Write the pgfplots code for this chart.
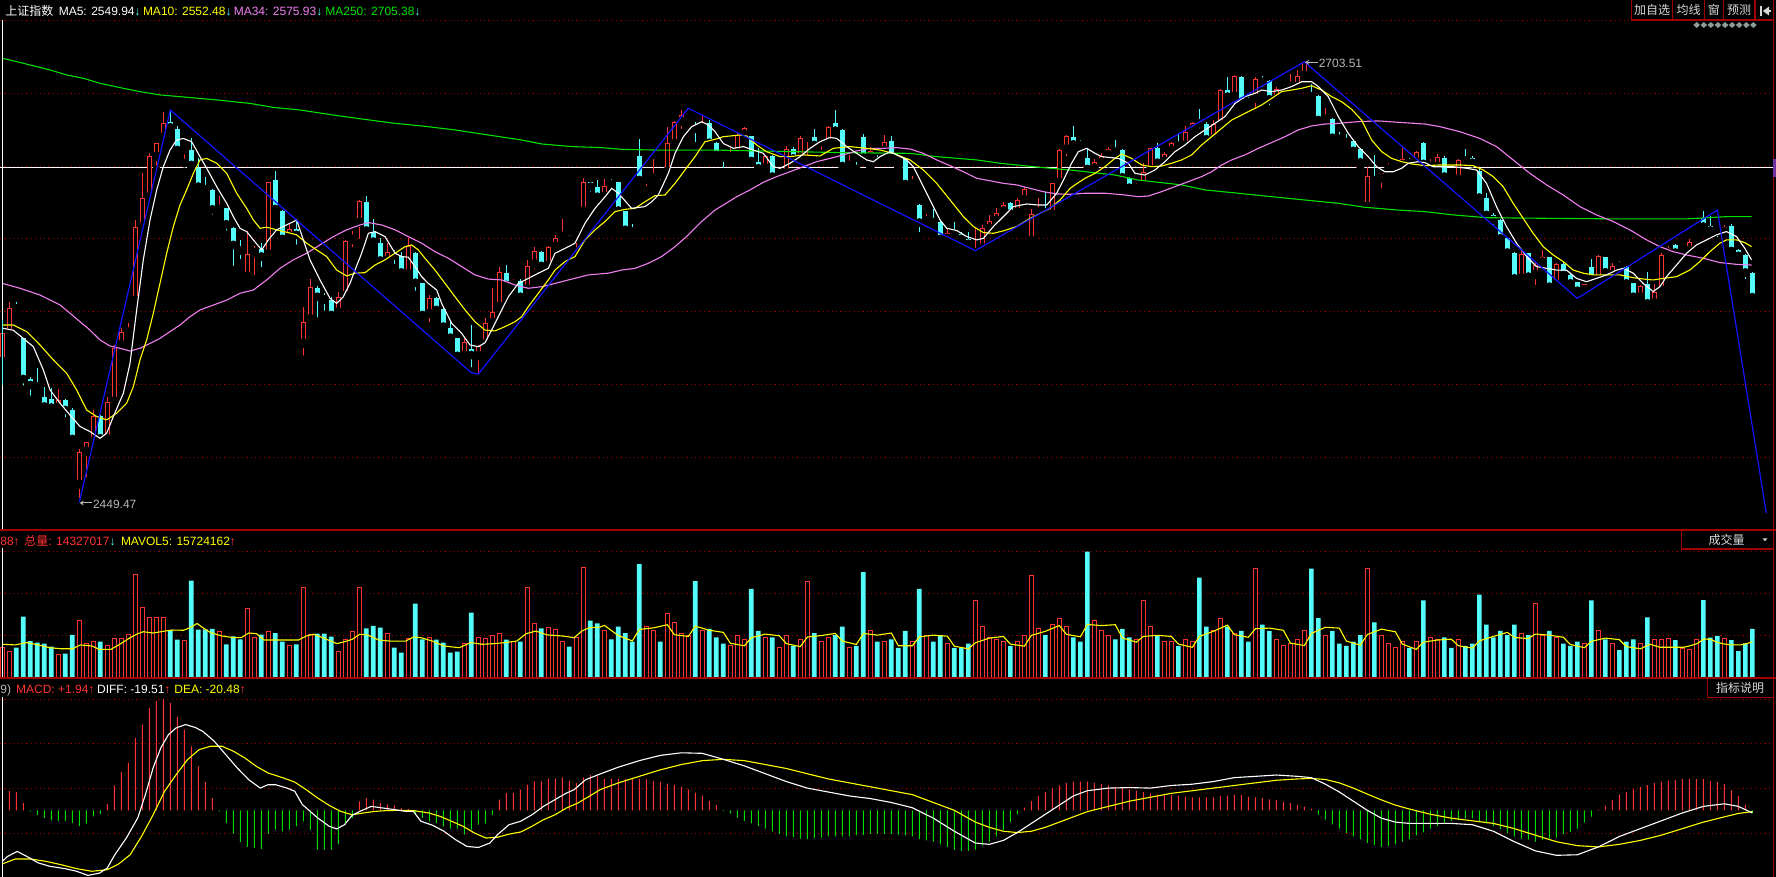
\documentclass[border=0pt]{standalone}
\usepackage{pgfplots}
\pgfplotsset{compat=1.18}
\usepackage{pgfplotstable}
\usepackage{fontspec}
\setmainfont{Liberation Sans}
\newfontfamily\cjk{Noto Sans CJK SC}
\usetikzlibrary{arrows.meta}
\definecolor{upred}{HTML}{FF3232}
\definecolor{dncyan}{HTML}{54FCFC}
\definecolor{gridred}{HTML}{8C0000}
\definecolor{framered}{HTML}{A00000}
\definecolor{maten}{HTML}{FFFF00}
\definecolor{mathree}{HTML}{F080F0}
\definecolor{matwo}{HTML}{00E000}
\definecolor{mgreen}{HTML}{00DD00}
\definecolor{zz}{HTML}{1414FF}
\definecolor{lbl}{HTML}{B8B8B8}
\definecolor{btn}{HTML}{D8D8D8}
\definecolor{dia}{HTML}{8C9C9C}
\definecolor{tab}{HTML}{7030A0}
\newcommand\f{\fontsize{6pt}{7pt}\selectfont}

\pgfplotstableread{
k O H L C
0 2530.6 2554.6 2517.1 2546.9
1 2546.9 2565.2 2543.1 2561.3
8 2504.1 2514.7 2498.9 2508.5
11 2459.8 2480.3 2449.47 2478.4
12 2478.8 2484.5 2461.4 2484.1
13 2484.5 2502.7 2484.0 2499.3
15 2485.9 2510.0 2485.5 2507.2
16 2507.6 2540.2 2507.2 2538.3
17 2540.2 2549.8 2538.3 2547.5
18 2547.3 2552.7 2545.0 2549.8
19 2565.7 2612.3 2565.3 2608.1
20 2608.1 2639.2 2607.7 2624.8
21 2625.4 2650.7 2624.8 2649.2
22 2648.8 2656.8 2641.1 2656.4
23 2659.9 2674.8 2659.5 2668.0
26 2652.6 2655.0 2645.0 2654.6
31 2618.0 2626.1 2616.5 2618.6
35 2579.6 2606.0 2579.2 2592.5
36 2593.1 2597.3 2578.0 2595.4
38 2592.5 2634.4 2592.1 2634.0
41 2602.7 2610.0 2601.7 2606.9
43 2541.1 2562.3 2531.6 2553.6
44 2555.0 2578.0 2552.7 2573.8
48 2559.0 2570.9 2555.2 2568.0
49 2568.6 2600.8 2568.2 2600.2
50 2600.8 2606.2 2594.0 2603.7
51 2610.8 2623.8 2598.9 2623.2
55 2588.7 2598.9 2585.3 2593.7
58 2581.0 2601.7 2580.6 2597.5
61 2558.1 2569.0 2550.8 2567.1
66 2533.9 2545.0 2528.7 2541.7
68 2533.9 2540.2 2521.6 2539.6
69 2540.6 2555.6 2540.2 2552.7
70 2553.1 2572.8 2552.7 2559.4
71 2562.3 2585.4 2561.9 2582.1
73 2574.8 2578.0 2570.0 2577.3
75 2572.3 2589.3 2567.1 2586.0
76 2586.8 2596.9 2581.2 2594.4
78 2586.0 2597.3 2583.0 2596.5
79 2596.9 2603.7 2593.1 2601.7
80 2602.5 2612.7 2601.7 2602.9
82 2601.7 2602.7 2594.0 2602.3
83 2617.1 2636.3 2612.7 2634.0
86 2625.7 2635.7 2624.8 2631.9
92 2635.5 2638.8 2629.2 2635.9
93 2636.1 2647.3 2635.7 2638.8
95 2640.1 2665.7 2639.7 2656.4
96 2656.1 2669.5 2655.5 2668.6
97 2668.9 2675.7 2662.2 2672.8
98 2673.2 2676.7 2668.4 2676.1
100 2665.1 2672.8 2661.3 2667.4
104 2648.4 2654.0 2646.5 2650.7
105 2650.7 2662.2 2648.8 2661.3
106 2661.3 2665.7 2656.8 2665.1
109 2642.1 2649.8 2641.5 2649.2
111 2637.3 2640.1 2635.7 2638.8
112 2639.2 2655.0 2638.2 2653.0
114 2647.8 2660.7 2645.9 2659.3
115 2659.7 2663.2 2646.9 2660.1
117 2657.2 2659.9 2650.3 2657.6
118 2656.4 2666.5 2656.1 2666.1
121 2643.4 2649.8 2643.0 2643.8
124 2648.4 2654.6 2643.0 2652.1
126 2652.1 2661.3 2651.6 2657.0
130 2632.8 2637.6 2632.5 2634.9
132 2611.4 2615.5 2608.5 2613.2
135 2601.4 2607.5 2600.8 2604.6
139 2593.1 2607.5 2590.6 2595.4
140 2596.0 2609.4 2595.4 2607.5
141 2607.1 2615.2 2604.6 2611.8
142 2611.8 2619.4 2611.4 2616.5
143 2617.1 2622.8 2612.9 2620.9
145 2616.5 2624.8 2616.1 2623.8
146 2623.8 2631.5 2622.3 2630.0
147 2600.4 2618.6 2597.3 2615.5
148 2616.5 2625.2 2615.5 2618.6
150 2615.5 2633.8 2612.7 2633.4
151 2633.8 2653.0 2633.4 2652.6
152 2653.0 2661.3 2646.5 2660.7
156 2641.7 2647.3 2639.2 2645.5
157 2645.3 2651.1 2639.6 2649.4
158 2649.8 2654.2 2645.0 2653.2
162 2630.2 2633.4 2628.6 2632.1
163 2632.5 2645.0 2632.1 2640.1
164 2641.1 2654.0 2640.1 2653.6
166 2645.9 2651.6 2643.0 2650.3
167 2652.1 2657.4 2650.7 2656.8
169 2655.3 2666.5 2655.0 2663.0
170 2664.2 2668.9 2661.7 2668.0
173 2658.8 2669.9 2658.4 2667.4
174 2667.1 2687.6 2666.5 2687.2
176 2683.4 2695.9 2683.0 2695.3
179 2682.4 2694.5 2674.2 2693.4
182 2681.9 2689.2 2681.1 2687.8
183 2686.9 2690.1 2685.3 2688.2
184 2689.0 2696.5 2688.2 2689.4
185 2689.2 2698.8 2688.8 2695.3
186 2695.5 2703.51 2695.3 2703.2
189 2670.1 2677.1 2669.5 2670.7
195 2619.9 2643.0 2618.0 2637.6
197 2636.3 2639.6 2628.0 2639.2
198 2641.3 2645.0 2637.6 2642.1
199 2643.0 2645.0 2639.8 2644.0
200 2644.0 2654.0 2642.1 2647.3
202 2645.5 2652.1 2643.0 2651.3
204 2643.0 2647.3 2640.1 2645.3
205 2643.0 2650.3 2639.6 2648.4
208 2635.7 2647.3 2635.3 2646.9
217 2578.6 2595.0 2578.2 2592.5
219 2580.6 2588.9 2572.3 2586.3
220 2587.7 2595.0 2581.6 2590.8
222 2575.2 2587.7 2574.8 2586.8
226 2571.9 2575.4 2568.0 2575.2
228 2578.0 2592.1 2577.3 2591.6
230 2580.6 2587.3 2580.2 2586.0
234 2567.7 2574.8 2567.1 2574.4
236 2564.2 2575.4 2561.3 2570.9
237 2571.5 2593.1 2570.9 2592.1
238 2593.1 2597.3 2589.8 2596.3
240 2594.0 2596.0 2591.6 2594.6
241 2594.6 2601.1 2594.0 2599.8
242 2600.4 2601.4 2597.5 2601.0
246 2605.2 2609.4 2604.6 2608.5
}\up

\pgfplotstableread{
k O H L C
2 2561.9 2565.2 2557.5 2561.3
3 2544.0 2544.5 2514.3 2520.6
4 2520.6 2521.9 2508.5 2517.1
5 2516.9 2526.8 2515.2 2516.2
6 2510.4 2516.2 2504.1 2504.7
7 2509.1 2515.2 2503.7 2504.1
9 2508.5 2508.9 2496.0 2502.7
10 2502.7 2503.7 2485.1 2486.0
14 2499.3 2499.8 2484.5 2486.4
24 2668.9 2675.7 2661.3 2665.7
25 2664.5 2666.5 2652.2 2652.6
27 2652.6 2659.3 2643.0 2644.0
28 2642.1 2647.8 2630.5 2631.5
29 2632.1 2637.3 2629.2 2630.0
30 2629.6 2630.0 2612.9 2618.4
32 2619.0 2619.4 2603.7 2609.8
33 2607.5 2608.5 2583.4 2597.9
34 2596.9 2600.8 2587.3 2594.6
37 2595.4 2598.9 2582.5 2591.2
39 2635.2 2640.5 2617.1 2618.6
40 2617.5 2617.9 2600.2 2601.4
42 2606.9 2612.7 2595.6 2603.7
45 2573.2 2574.2 2553.6 2568.0
46 2568.4 2570.3 2557.5 2566.5
47 2565.9 2568.0 2556.9 2557.5
52 2622.8 2626.1 2601.7 2606.2
53 2605.6 2612.7 2599.2 2599.8
54 2599.2 2601.7 2587.7 2588.9
56 2592.7 2595.0 2584.3 2591.9
57 2591.4 2593.7 2581.6 2582.0
59 2593.1 2594.0 2569.0 2576.1
60 2575.7 2576.0 2557.2 2557.5
62 2567.5 2568.0 2560.0 2560.4
63 2560.7 2561.3 2549.8 2550.8
64 2549.8 2553.6 2543.6 2544.4
65 2544.0 2544.4 2533.5 2533.9
67 2537.7 2551.7 2524.8 2534.4
72 2581.6 2586.3 2572.3 2574.8
74 2577.3 2578.0 2565.2 2568.0
77 2594.0 2594.6 2585.4 2585.8
81 2603.1 2603.7 2597.7 2600.8
84 2634.0 2634.4 2626.1 2631.5
85 2631.1 2635.3 2621.9 2625.7
87 2633.8 2635.7 2629.6 2633.0
88 2634.0 2634.4 2616.1 2617.7
89 2617.5 2617.7 2604.2 2606.6
90 2606.4 2609.8 2603.7 2605.6
91 2649.2 2658.9 2633.4 2635.3
94 2639.0 2640.1 2633.0 2638.2
99 2665.7 2668.9 2654.6 2664.9
101 2668.0 2669.9 2654.0 2656.8
102 2656.8 2657.4 2647.3 2649.8
103 2649.8 2650.0 2639.6 2648.4
107 2660.7 2660.9 2645.3 2646.3
108 2645.9 2653.6 2641.7 2642.1
110 2649.2 2649.8 2636.9 2637.3
113 2653.0 2654.2 2645.9 2647.8
116 2659.9 2664.7 2655.0 2655.5
119 2668.0 2675.7 2663.4 2663.8
120 2664.2 2664.5 2640.1 2643.4
122 2643.6 2645.9 2639.6 2641.7
123 2659.9 2661.9 2648.2 2648.4
125 2652.6 2653.6 2645.9 2652.1
127 2657.8 2660.7 2647.8 2648.2
128 2648.4 2650.7 2643.0 2647.8
129 2647.8 2648.2 2632.5 2633.0
131 2620.9 2621.3 2602.7 2610.8
133 2612.7 2618.4 2610.8 2611.0
134 2611.4 2611.8 2600.8 2601.4
136 2606.6 2611.4 2604.2 2604.6
137 2604.0 2605.3 2597.9 2601.4
138 2601.4 2605.3 2598.3 2598.5
144 2621.9 2622.8 2615.2 2616.1
149 2618.0 2628.2 2616.1 2616.5
153 2660.3 2666.5 2654.6 2655.9
154 2656.1 2658.4 2651.6 2655.5
155 2648.2 2653.6 2640.1 2641.7
159 2653.2 2658.4 2650.7 2651.6
160 2652.6 2653.0 2633.8 2636.9
161 2636.3 2636.9 2628.2 2630.9
165 2654.0 2656.4 2644.0 2645.3
168 2657.4 2662.2 2654.0 2655.1
171 2669.9 2676.5 2662.6 2668.0
172 2667.6 2668.9 2658.4 2658.8
175 2687.2 2694.5 2681.9 2683.4
177 2694.9 2695.3 2679.5 2680.1
178 2680.9 2683.4 2678.0 2680.3
180 2692.6 2695.3 2686.3 2692.0
181 2692.4 2693.0 2676.1 2681.9
187 2684.2 2690.5 2679.5 2683.6
188 2683.8 2684.2 2669.5 2669.9
190 2670.5 2670.9 2659.1 2659.7
191 2659.7 2663.2 2658.0 2659.1
192 2657.8 2661.9 2655.0 2657.2
193 2658.0 2658.4 2650.3 2652.1
194 2653.2 2653.6 2643.4 2645.5
196 2636.1 2649.8 2634.9 2635.3
201 2645.7 2648.2 2642.1 2645.0
203 2656.4 2657.4 2644.0 2644.6
206 2648.2 2649.2 2636.3 2637.3
207 2638.6 2640.1 2634.4 2637.8
209 2647.3 2653.2 2646.1 2646.5
210 2647.8 2649.2 2645.0 2645.3
211 2640.7 2641.5 2624.8 2625.2
212 2624.8 2627.7 2614.2 2615.2
213 2615.2 2616.5 2606.9 2612.3
214 2612.3 2612.7 2600.4 2601.7
215 2601.7 2602.3 2592.1 2593.5
216 2593.5 2593.7 2577.1 2578.6
218 2593.1 2593.5 2579.2 2579.6
221 2590.8 2591.2 2573.2 2573.8
223 2586.8 2588.3 2580.0 2580.6
224 2580.6 2581.6 2574.8 2575.7
225 2576.3 2576.7 2568.0 2571.5
227 2585.4 2589.7 2578.0 2578.6
229 2590.8 2591.2 2581.6 2582.1
231 2586.5 2588.9 2584.4 2585.8
232 2585.4 2585.8 2574.8 2575.7
233 2575.7 2576.1 2565.7 2568.0
235 2575.2 2582.0 2563.8 2564.2
239 2597.9 2598.5 2591.2 2593.5
243 2613.2 2617.7 2605.6 2608.5
244 2608.8 2614.4 2605.6 2606.2
245 2606.6 2606.9 2599.8 2605.7
247 2608.8 2610.0 2593.7 2594.4
248 2595.0 2595.4 2589.3 2591.6
249 2592.1 2592.5 2575.7 2582.0
250 2581.6 2582.0 2567.5 2567.7
}\dn

\pgfplotstableread{
k p
0 2549.9
1.57 2548.7
3.0 2544.0
4.43 2539.2
5.86 2525.8
6.81 2514.3
8.24 2506.6
9.67 2499.8
11.1 2493.2
12.5 2490.3
13.95 2486.4
14.9 2489.3
15.86 2498.9
17.29 2512.4
18.24 2529.6
19.19 2560.4
20.14 2589.3
21.1 2612.3
22.05 2629.6
23.0 2643.0
23.95 2652.6
24.9 2658.4
25.86 2659.3
27.05 2657.4
28.24 2648.8
29.19 2642.1
30.62 2631.5
32.05 2621.9
33.0 2614.2
33.95 2607.5
34.9 2605.6
35.86 2600.8
37.05 2595.0
38.0 2600.8
39.19 2606.6
40.14 2608.5
41.1 2610.4
42.05 2612.3
43.0 2600.8
43.95 2589.3
45.38 2577.7
46.81 2567.1
47.76 2564.2
48.71 2568.0
49.67 2575.7
50.38 2583.4
51.33 2593.1
52.29 2604.6
53.24 2605.6
54.67 2602.7
56.1 2593.1
57.05 2591.2
58.0 2590.8
58.95 2585.4
59.9 2579.6
60.86 2575.7
62.05 2571.9
62.76 2564.2
64.19 2552.7
65.62 2546.9
66.81 2540.2
68.0 2539.2
68.95 2541.5
69.9 2548.8
70.86 2556.5
72.29 2568.0
73.71 2575.7
75.14 2578.6
76.57 2581.6
78.0 2584.4
78.95 2593.1
80.38 2595.9
81.81 2598.9
83.24 2610.4
84.67 2619.0
86.1 2625.7
87.05 2630.5
88.0 2627.7
89.9 2619.0
91.81 2620.0
92.76 2622.8
93.71 2626.7
95.14 2639.2
96.1 2650.7
97.29 2660.3
98.48 2666.1
99.9 2668.9
100.86 2667.1
101.81 2663.2
103.0 2656.4
104.43 2653.6
105.86 2654.6
107.29 2652.6
108.72 2650.7
110.15 2643.0
111.1 2642.1
112.53 2645.0
113.96 2648.8
115.39 2653.6
116.81 2657.4
118.24 2659.9
119.2 2659.3
120.62 2654.6
122.05 2650.7
123.48 2646.9
124.43 2645.9
125.39 2648.8
126.81 2651.6
127.77 2649.8
129.2 2646.9
130.15 2643.0
131.1 2635.3
132.53 2623.8
133.96 2612.3
134.91 2607.5
136.34 2606.2
137.77 2602.7
139.2 2600.8
140.15 2601.7
141.58 2608.5
143.0 2614.2
144.43 2620.0
146.34 2621.5
148.0 2620.9
149.2 2620.9
150.62 2627.7
151.58 2635.3
152.75 2645.0
153.7 2651.6
154.9 2653.6
156.1 2650.7
157.04 2648.8
158.0 2648.4
159.42 2647.8
160.85 2645.0
161.8 2639.2
163.23 2638.2
164.66 2641.1
166.09 2645.9
167.51 2651.6
168.94 2655.5
170.37 2660.3
171.8 2664.2
173.23 2668.0
174.66 2671.9
176.09 2679.5
177.51 2683.4
178.94 2685.3
179.9 2687.2
181.32 2686.3
182.75 2687.2
184.18 2689.2
185.61 2692.0
187.04 2692.0
188.0 2689.2
189.42 2683.4
190.85 2671.9
192.28 2662.2
193.7 2654.6
195.13 2648.8
196.32 2643.0
197.51 2640.1
198.7 2640.1
199.9 2642.1
200.85 2645.0
202.28 2645.9
203.23 2645.3
204.4 2643.0
207.26 2643.0
209.17 2642.1
210.6 2641.1
212.02 2633.4
213.45 2620.0
214.88 2608.5
216.31 2598.9
217.74 2591.2
219.17 2585.4
220.6 2584.4
222.02 2583.4
223.45 2583.4
224.88 2578.6
226.31 2576.7
227.74 2578.6
229.17 2580.6
230.6 2583.4
231.55 2584.4
232.98 2581.6
234.4 2575.7
235.83 2571.0
236.79 2573.8
237.74 2579.6
239.17 2586.3
240.6 2593.1
242.02 2597.9
243.45 2600.8
244.88 2603.7
246.31 2605.6
247.74 2602.7
248.93 2595.9
249.88 2589.3
}\maA

\pgfplotstableread{
k p
0 2551.7
1.57 2551.7
3.48 2547.9
5.38 2540.2
7.29 2531.6
9.19 2523.9
10.62 2514.3
12.05 2502.7
13.48 2498.9
14.9 2497.0
16.33 2500.8
17.76 2506.6
18.72 2516.2
19.67 2531.6
20.62 2543.1
21.57 2558.5
22.52 2575.7
23.48 2593.1
24.43 2608.5
25.38 2620.9
26.33 2629.6
27.29 2639.2
28.24 2646.9
29.19 2647.8
30.62 2645.0
32.05 2639.2
33.48 2627.7
34.9 2619.0
35.86 2612.3
36.81 2607.5
37.76 2608.1
39.19 2606.6
40.62 2605.2
42.05 2603.7
43.48 2598.9
44.9 2595.0
46.33 2591.2
47.76 2583.4
49.19 2580.0
50.38 2581.6
51.81 2581.9
53.24 2586.3
54.67 2589.3
56.1 2593.1
57.52 2596.9
58.48 2597.9
59.43 2595.0
60.38 2590.2
61.81 2583.4
63.24 2575.7
64.67 2568.0
66.1 2560.4
67.52 2553.6
68.95 2548.8
70.38 2548.3
71.81 2550.8
73.24 2553.6
74.19 2556.5
75.14 2562.3
76.57 2570.0
78.0 2577.7
78.95 2583.4
80.38 2588.3
81.81 2591.2
83.24 2600.8
84.67 2606.6
86.1 2611.4
87.52 2617.1
88.95 2618.4
90.38 2619.0
91.81 2622.8
93.24 2626.3
94.67 2626.7
96.1 2633.4
97.52 2641.1
98.95 2648.8
100.38 2657.4
101.81 2658.8
103.0 2660.3
105.39 2661.3
106.34 2660.7
107.77 2655.5
109.2 2651.6
111.1 2648.8
112.53 2648.8
114.43 2649.8
116.81 2649.2
118.72 2653.6
121.1 2654.6
123.48 2653.6
125.39 2652.6
127.29 2650.7
129.67 2646.9
131.58 2641.1
133.48 2633.4
135.39 2623.8
137.29 2614.2
138.72 2608.5
140.15 2605.0
141.58 2604.6
143.0 2606.0
144.91 2608.5
146.81 2613.2
148.24 2616.1
149.67 2619.0
151.1 2623.8
152.53 2630.5
153.23 2632.5
154.66 2636.3
156.09 2639.2
157.51 2643.0
158.94 2647.8
159.9 2650.3
161.32 2647.8
162.75 2644.0
164.18 2643.0
165.61 2643.4
167.04 2645.0
168.47 2646.9
169.9 2649.8
171.32 2655.5
172.75 2660.3
174.18 2665.1
175.61 2669.9
177.04 2672.8
178.47 2675.7
179.9 2678.6
181.32 2682.4
182.75 2686.3
184.18 2687.2
185.61 2688.2
187.04 2689.7
188.47 2687.2
189.9 2683.4
191.32 2680.5
192.75 2676.1
194.18 2669.9
195.61 2658.4
197.04 2651.7
198.47 2647.8
199.9 2645.9
201.32 2644.6
203.23 2643.6
205.36 2644.0
208.21 2644.0
210.12 2643.6
211.55 2641.1
212.98 2637.3
214.4 2631.5
215.83 2621.9
217.26 2613.2
218.69 2604.6
220.12 2596.9
221.55 2592.1
222.98 2588.3
224.4 2583.4
225.83 2581.6
227.26 2580.6
229.17 2580.6
231.07 2580.6
232.98 2579.0
234.88 2578.0
235.83 2577.7
237.26 2578.6
239.17 2579.6
241.07 2583.4
242.5 2588.3
243.93 2594.0
245.36 2598.9
246.31 2600.8
247.74 2600.8
248.93 2599.2
249.88 2596.9
}\maB

\pgfplotstableread{
k p
0 2575.7
2.52 2572.9
5.38 2569.0
8.24 2563.3
9.67 2558.5
11.1 2553.6
12.52 2548.8
13.95 2543.1
15.38 2539.6
16.81 2538.3
18.24 2536.7
19.67 2538.3
21.1 2541.1
22.52 2544.0
23.95 2547.9
25.38 2551.7
26.81 2556.5
28.24 2560.4
30.14 2563.2
32.05 2566.1
33.95 2570.0
35.86 2571.9
37.76 2577.7
39.67 2584.4
41.57 2589.3
43.48 2593.1
45.38 2597.9
47.29 2602.7
49.19 2606.6
51.1 2609.4
52.29 2610.8
54.19 2609.4
56.1 2606.6
58.0 2602.7
59.9 2598.9
61.81 2594.0
63.71 2590.2
65.62 2585.4
67.52 2580.6
69.43 2578.2
71.33 2577.7
73.24 2574.8
75.14 2572.9
77.05 2573.8
78.95 2575.7
80.86 2577.7
83.71 2580.6
86.57 2581.6
88.48 2583.4
90.38 2584.4
92.29 2587.3
94.19 2591.2
96.1 2596.9
98.0 2603.7
99.9 2611.4
101.81 2618.0
103.0 2620.9
104.91 2625.7
106.81 2629.6
108.72 2634.0
110.62 2637.3
112.53 2640.1
114.43 2643.0
116.34 2645.9
118.24 2647.8
120.15 2649.8
122.05 2652.1
123.96 2653.6
125.86 2653.6
127.77 2654.0
129.67 2653.2
131.58 2650.7
133.48 2646.9
135.39 2643.6
137.29 2640.1
139.2 2636.3
141.1 2634.9
143.0 2633.4
144.91 2632.5
146.81 2630.5
148.72 2628.6
150.62 2627.3
152.53 2627.1
154.66 2627.7
157.51 2627.7
160.37 2626.7
162.28 2625.7
163.7 2626.1
165.61 2628.6
167.51 2631.5
169.42 2634.4
171.32 2637.3
172.75 2640.1
174.18 2644.0
175.61 2646.9
177.51 2649.8
179.42 2653.6
181.32 2656.9
183.23 2660.3
185.13 2664.2
187.04 2666.5
188.94 2667.6
190.85 2668.0
193.7 2669.0
196.56 2669.4
199.42 2668.6
203.23 2667.6
205.36 2666.1
208.21 2663.2
211.07 2659.3
213.45 2654.6
215.83 2646.9
218.21 2639.2
220.6 2632.5
222.98 2626.7
225.36 2620.0
227.74 2615.2
230.12 2611.4
232.5 2606.6
234.88 2600.8
236.79 2596.9
238.69 2594.0
240.6 2592.1
242.98 2590.2
245.36 2587.7
247.74 2586.7
249.88 2586.3
}\maC

\pgfplotstableread{
k p
0 2705.5
2.05 2703.6
6.81 2698.8
9.19 2695.9
11.57 2694.0
13.95 2691.1
17.29 2688.2
19.67 2686.3
22.52 2684.4
25.38 2683.4
30.62 2681.5
35.38 2679.5
38.71 2677.2
42.52 2675.7
47.29 2672.8
51.0 2670.7
56.1 2668.0
59.9 2666.5
64.67 2664.2
69.43 2661.3
74.19 2658.4
77.05 2656.1
81.33 2654.6
85.62 2654.0
88.48 2653.0
93.24 2652.6
101.81 2652.6
120.15 2651.1
129.67 2650.7
133.48 2648.8
139.2 2646.9
142.53 2645.0
146.34 2643.4
149.67 2642.1
152.53 2641.1
158.94 2638.2
162.28 2635.3
168.47 2632.5
171.8 2629.6
176.56 2627.7
181.32 2625.7
186.09 2623.8
190.85 2621.9
194.66 2619.6
199.42 2618.0
203.23 2617.1
207.26 2615.2
212.02 2613.6
221.55 2613.2
231.07 2612.9
240.6 2612.9
246.31 2614.2
249.88 2614.2
}\maD

% volume, millions of shares
\pgfplotstableread{
k v
0 14.33
1 12.5
8 10.7
11 27.1
12 16.3
13 17.2
15 14.9
16 18.3
17 18.2
18 20.1
19 48.7
20 32.8
21 28.5
22 28.2
23 28.5
26 17.7
31 21.5
35 32.4
36 19.1
38 21.6
41 14.9
43 42.6
44 20.4
48 12.2
49 17.9
50 21.9
51 42.6
55 21.0
58 18.3
61 18.8
66 16.0
68 18.8
69 18.3
70 19.6
71 21.0
73 17.2
75 42.6
76 25.7
78 23.5
79 22.6
80 17.2
82 18.8
83 51.7
86 22
92 24
93 22
95 30
96 26
97 21
98 20
100 22
104 15
105 20
106 18
109 19
111 14
112 20
114 18
115 45.4
117 17
118 19
121 14
124 22
126 17
130 17
132 20
135 16
139 36.3
140 24
141 19
142 18
143 17
145 17
146 20
147 48
148 23
150 25
151 28
152 24
156 27
157 22
158 20
162 18
163 36.3
164 24
166 17
167 17
169 18
170 17
173 22
174 28
176 21
179 51.2
182 18
183 15
184 16
185 18
186 22
189 20
195 51.2
197 20
198 16
199 14
200 17
202 17
204 19
205 18
208 18
217 21
219 34.7
220 20
222 19
226 16
228 22
230 16
234 16
236 18.0
237 18.0
238 18.5
240 13.8
241 13.1
242 18.0
246 18.5
}\volup

\pgfplotstableread{
k v
2 14.1
3 28.7
4 17.2
5 16.5
6 16.0
7 14.6
9 11.3
10 20.1
14 16.9
24 22.3
25 17.9
27 45.6
28 22.6
29 22.7
30 23.0
32 15.7
33 19.4
34 18.0
37 20.2
39 21.0
40 16.9
42 15.7
45 20.7
46 20.7
47 19.3
52 23.2
53 24.3
54 23.5
56 14.1
57 11.8
59 34.8
60 18.0
62 17.9
63 16.5
64 11.8
65 12.2
67 30.6
72 17.9
74 16.9
77 23.2
81 14.6
84 26.8
85 25.5
87 18
88 24
89 21
90 17
91 53.4
94 17
99 45.4
101 23
102 19
103 16
107 41.7
108 22
110 19
113 15
116 21
119 20
120 24
122 15
123 49.6
125 17
127 18
128 14
129 22
131 41.7
133 17
134 20
136 14
137 14
138 16
144 15
149 20
153 19
154 17
155 59.2
159 18
160 23
161 19
165 20
168 15
171 47
172 24
175 24
177 22
178 17
180 25
181 22
187 51.2
188 28
190 22
191 16
192 15
193 17
194 20
196 26
201 14
203 36.3
206 19
207 14
209 15
210 16
211 39
212 25
213 19
214 22
215 20
216 25
218 20
221 22
223 16
224 15
225 17
227 36.3
229 18
231 13
232 17
233 18
235 28.4
239 17.7
243 36.5
244 18.8
245 19.6
247 17.7
248 12.5
249 16.1
250 22.9
}\voldn

\pgfplotstableread{
k v
0 15.72
1.85 15.4
3.49 16.5
5.13 15.4
6.77 14.1
8.41 13.6
10.05 13.6
11.15 15.4
12.79 14.9
13.88 13.3
15.52 13.3
16.62 15.4
18.26 18.8
19.35 20.7
20.17 21.6
21.54 21.0
23.18 21.9
24.27 22.4
25.91 22.3
27.0 23.8
27.82 25.5
28.64 23.5
29.73 21.2
31.38 19.6
33.02 18.8
34.11 18.8
35.2 21.0
36.3 20.7
37.39 17.7
39.03 17.7
40.67 17.7
42.31 17.7
43.41 19.6
44.5 20.4
46.14 18.3
47.78 16.0
48.87 16.9
49.97 18.0
51.06 20.4
52.15 20.1
53.79 17.7
55.43 17.2
57.62 17.2
58.71 19.1
59.81 18.8
61.45 17.2
63.09 14.9
65.28 14.1
66.92 16.5
68.56 15.7
70.2 16.0
71.84 16.5
73.48 17.2
74.84 20.7
76.21 21.9
77.85 20.1
80.04 19.6
81.68 18.8
82.77 21.9
83.86 23.5
85.4 23.8
86 24.6
88 19.8
90 17.3
91 22.7
93 23.4
95 24.9
96 20.2
98 19.4
99 24.2
101 22.3
103 21.3
104 16.2
106 15.0
107 18.8
109 20.5
111 19.7
112 16.0
114 14.6
115 19.1
117 19.8
119 20.8
120 17.2
122 15.6
123 20.8
125 20.0
127 21.0
128 15.0
130 15.0
131 19.2
133 20.0
135 19.5
136 14.8
138 13.6
139 16.4
141 18.6
143 19.4
144 15.8
146 14.8
147 19.9
149 21.8
151 24.5
152 20.4
154 19.2
155 25.0
157 24.5
159 24.9
160 18.7
162 16.7
163 19.4
165 19.9
167 19.4
168 15.8
170 14.3
171 19.4
173 21.8
175 24.7
176 20.2
178 19.0
179 23.0
181 23.3
183 22.3
184 16.3
186 15.1
187 20.8
189 23.7
191 23.3
192 17.2
194 15.3
195 20.3
197 22.8
199 21.6
200 15.8
202 13.3
203 16.7
205 17.7
207 18.1
208 15.0
210 13.9
211 17.3
213 19.4
215 21.3
216 18.9
218 18.4
219 20.5
221 20.0
223 19.0
224 15.6
226 14.1
227 17.1
229 18.6
231 17.9
232 14.6
234 13.6
235.4 15.7
236.8 14.3
238.3 14.3
240.2 14.3
241.2 15.1
242.1 16.0
243.1 18.2
244.0 18.0
245.0 16.6
245.9 15.9
246.9 15.4
248.3 15.4
249.3 16.1
250.0 16.9
}\mav

\pgfplotstableread{
k h
0 1.94
1 7.3
2 7.0
3 2.8
15 2.4
16 9.4
17 14.7
18 18.1
19 27.7
20 32.8
21 39.1
22 41.9
23 42.6
24 41.1
25 35.7
26 30.9
27 24.5
28 16.8
29 10.8
30 4.7
51 3.4
52 4.7
53 4.1
54 2.8
55 2.2
56 1.9
57 0.9
58 0.6
71 4.1
72 6.6
73 6.6
74 7.9
75 9.8
76 11.1
77 11.1
78 12.1
79 12.1
80 12.6
81 11.3
82 10.5
83 12.6
84 13.6
85 13.0
86 12
87 12
88 12
89 12
90 12
91 12
92 11.8
93 11.2
94 11
95 10.2
96 9.8
97 9
98 8
99 6.8
100 5.6
101 3.6
102 2
146 1
147 3.5
148 5.5
149 7
150 8.5
151 9.5
152 10.5
153 11
154 11
155 11
156 10.5
157 10
158 9.5
159 9
160 8.5
161 8
162 7.5
163 7
164 6.5
165 6
166 6
167 5.8
168 5.6
169 5.2
170 5
171 5
172 5
173 5
174 5.4
175 5.6
176 6
177 5.8
178 5.2
179 5
180 4.8
181 4.2
182 4
183 3.2
184 2.8
185 2
186 1.4
187 0.6
228 0.3
229 1.8
230 4
231 6
232 7
233 8
234 9
235 9.6
236 10.4
237 11
238 11.4
239 11.6
240 12
241 12
242 12
243 12
244 11.2
245 10.8
246 10
247 7.6
248 5.4
249 2.2
}\hup

\pgfplotstableread{
k h
4 -0.4
5 -1.7
6 -2.9
7 -3.8
8 -4.0
9 -4.0
10 -4.8
11 -5.9
12 -5.1
13 -2.3
14 -1.4
31 -0.4
32 -4.8
33 -8.9
34 -12.1
35 -14.0
36 -14.4
37 -14.7
38 -8.9
39 -7.4
40 -8.0
41 -7.4
42 -6.1
43 -4.2
44 -7.4
45 -15.0
46 -15.0
47 -15.0
48 -12.9
49 -5.5
50 -2.9
59 -1.7
60 -2.9
61 -4.2
62 -4.8
63 -6.1
64 -7.0
65 -7.0
66 -9.3
67 -7.4
68 -5.5
69 -5.1
70 -1.7
103 -0.3
104 -1.2
105 -2.8
106 -4
107 -5
108 -6
109 -7
110 -8
111 -9
112 -10
113 -10.2
114 -10.8
115 -11
116 -10.6
117 -10.4
118 -10
119 -10
120 -10
121 -10
122 -9.6
123 -9.4
124 -9
125 -9
126 -9
127 -9
128 -9.4
129 -9.6
130 -10
131 -11
132 -11.5
133 -12
134 -13
135 -14
136 -15
137 -15.5
138 -15.5
139 -15
140 -13.5
141 -12
142 -10
143 -7.5
144 -4.5
145 -1.5
188 -1.6
189 -3.6
190 -5.4
191 -7
192 -8.6
193 -10
194 -11
195 -12.4
196 -13.2
197 -14
198 -13.6
199 -13
200 -12
201 -11
202 -9.6
203 -8.4
204 -7
205 -6
206 -5
207 -4
208 -3.8
209 -3.2
210 -3
211 -4
212 -5
213 -6
214 -7.2
215 -8.8
216 -10
217 -10.8
218 -11.2
219 -12
220 -11.4
221 -10.8
222 -10.4
223 -9.2
224 -8.2
225 -7
226 -4.6
227 -2.4
250 -1
}\hdn

\pgfplotstableread{
k v
0 -19.51
0.76 -17.6
2.13 -15.7
3.49 -17.6
5.13 -20.1
6.77 -21.4
8.96 -22.3
10.6 -23.3
12.24 -24.9
13.88 -24.0
14.98 -22.1
16.07 -17.0
17.71 -10.6
19.35 -2.9
20.44 6.0
21.54 16.2
22.63 23.8
23.72 28.9
24.82 31.5
26.18 32.8
27.55 31.7
28.64 30.2
30.28 26.4
31.92 21.3
33.56 16.2
35.2 11.7
36.85 8.5
37.94 9.8
39.04 9.8
40.67 8.5
41.77 7.3
42.86 2.2
45.05 -2.9
46.69 -6.1
47.78 -7.1
48.88 -5.5
49.97 -1.9
51.06 -0.4
52.7 1.5
54.34 0.9
55.98 0.3
57.62 -0.4
58.72 -0.4
59.81 -4.2
61.45 -5.7
63.09 -8.0
64.73 -11.2
66.37 -13.8
68.01 -14.2
69.65 -12.5
70.74 -9.3
72.38 -5.5
74.02 -4.2
75.66 -1.7
77.3 1.5
78.95 4.1
80.59 6.6
81.68 7.9
83.32 11.7
85.4 13.9
88 16.5
91 19
94 21
97 22
100 21.8
103 19.5
106 17
109 14
112 11
115 8.5
118 7
121 5.5
124 4.5
127 3
130 1
133 -3
136 -8
139 -12.5
141 -13
143 -11.5
145 -8.5
147 -5
149 -1.5
151 2
153 5.5
155 7.5
158 8.5
161 8.7
164 8.5
167 9.5
170 10
173 11
176 12.5
179 13
182 13.5
185 13
187 12.5
189 10
191 7
193 3.5
195 0
197 -3
199 -4.5
201 -5
204 -5
207 -5
210 -5.5
213 -8
216 -12
219 -15.5
222 -17.2
225 -17
228 -14
231 -10
234 -7
237 -4
240 -1
243 1.5
246 2.5
248 1.5
250 -1
}\diff

\pgfplotstableread{
k v
0 -20.48
1.85 -18.6
4.04 -18.6
6.23 -19.5
8.41 -20.8
10.6 -22.3
12.79 -23.3
14.98 -22.7
16.62 -20.5
18.26 -17.0
19.9 -9.9
21.54 -1.7
23.18 7.3
24.82 13.6
26.46 19.4
28.1 23.2
29.74 24.5
31.38 24.5
33.02 22.6
34.66 20.0
36.3 16.8
37.94 14.3
40.13 12.4
41.77 10.8
43.41 7.9
45.05 4.7
46.69 1.9
48.33 -0.4
49.97 -1.7
51.61 -1.0
53.25 -0.4
54.89 -0.1
56.53 0.0
58.72 -0.1
60.9 -1.0
62.54 -2.3
64.18 -4.2
65.82 -6.1
67.46 -8.7
69.1 -10.6
70.74 -10.3
72.38 -9.1
74.02 -8.3
75.66 -6.1
77.3 -3.6
78.95 -1.7
80.59 0.9
82.23 2.8
83.86 5.4
85.4 7.9
88 10.5
91 13
94 15.5
97 17.5
100 19
103 19.5
106 19
109 17.5
112 16
115 14
118 12
121 10.5
124 9
127 7.5
130 6
133 3
136 0
139 -4.5
141 -6.5
143 -8
145 -8.5
147 -8
149 -6.5
151 -4.5
153 -2.5
155 -0.5
158 1.5
161 3.5
164 5
167 6.5
170 7.5
173 8.5
176 9.5
179 10.5
182 11.5
185 12
187 12.2
189 11.8
191 10.5
193 8.5
195 6.2
197 4
199 2
201 0.5
204 -1.5
207 -3
210 -4
213 -5
216 -7
219 -9.5
222 -12
225 -13.5
228 -14
231 -13
234 -11.5
237 -9.5
240 -7
243 -4.5
246 -2.5
248 -1.2
250 -0.5
}\dea

\pgfplotsset{
  panel/.style={at={(0pt,#1)}, anchor=north west, scale only axis, width=888pt,
    xmin=-0.333, xmax=253.38, axis line style={draw=none}, tick style={draw=none},
    xtick=\empty, yticklabels={}, major tick length=0pt, ymajorgrids,
    grid style={gridred, line width=0.5pt, dash pattern=on 0.6pt off 1.6pt}},
  wick/.style={only marks, mark=none, forget plot,
    error bars/y dir=plus, error bars/y explicit, error bars/error mark=none,
    error bars/error bar style={line width=0.5pt, draw=#1, solid}},
  body/.style 2 args={only marks, mark=none, forget plot,
    error bars/y dir=plus, error bars/y explicit, error bars/error mark=none,
    error bars/error bar style={line width=#2, draw=#1, solid}},
}

\begin{document}
\begin{tikzpicture}
\fill[black] (0,0) rectangle (888pt,-438.5pt);

% ---------------- main price panel: candles ----------------
\begin{axis}[panel=-10pt, height=255pt, ymin=2433.5, ymax=2727.6,
  ytick={2475.4,2517.4,2559.4,2601.4,2643.4,2685.4,2727.1}]
\addplot[white, line width=0.5pt, forget plot] coordinates {(-1,2642.3) (254,2642.3)};
\addplot[wick=upred] table[x=k, y=L, y error expr=\thisrow{H}-\thisrow{L}] {\up};
\addplot[wick=dncyan] table[x=k, y=L, y error expr=\thisrow{H}-\thisrow{L}] {\dn};
\addplot[body={upred}{2.5pt}] table[x=k, y=O, y error expr={max(\thisrow{C}-\thisrow{O},0.6)}] {\up};
\addplot[body={black}{1.5pt}] table[x=k, y expr=\thisrow{O}+0.58, y error expr={max(\thisrow{C}-\thisrow{O}-1.16,0)}] {\up};
\addplot[body={dncyan}{2.5pt}] table[x=k, y=C, y error expr={max(\thisrow{O}-\thisrow{C},0.6)}] {\dn};
\end{axis}
% ---------------- main price panel: lines on top ----------------
\begin{axis}[panel=-10pt, height=255pt, ymin=2433.5, ymax=2727.6, ymajorgrids=false, ytick=\empty]
\addplot[matwo, line width=0.55pt] table[x=k, y=p] {\maD};
\addplot[mathree, line width=0.55pt] table[x=k, y=p] {\maC};
\addplot[maten, line width=0.55pt] table[x=k, y=p] {\maB};
\addplot[white, line width=0.55pt] table[x=k, y=p] {\maA};
\addplot[zz, line width=0.6pt] coordinates {(11,2449.47) (24,2675.7) (67,2524.2) (68,2523.4) (98,2676.7) (139,2594.6) (186,2703.51) (225,2567.1) (245,2618.0) (252,2443.1)};
\addplot[white, line width=0.5pt] coordinates {(0,2433.5) (0,2727.6)};
\addplot[dncyan, line width=0.5pt] coordinates {(0,2517.1) (0,2554.6)};
\draw[lbl, line width=0.5pt, -{Stealth[length=2pt,width=2.4pt]}] (axis cs:12.75,2449.1) -- (axis cs:11.05,2449.1);
\node[anchor=west, inner sep=0pt, text=lbl, font=\f] at (axis cs:12.9,2448.5) {2449.47};
\draw[lbl, line width=0.5pt, -{Stealth[length=2pt,width=2.4pt]}] (axis cs:187.9,2703.2) -- (axis cs:186.1,2703.2);
\node[anchor=west, inner sep=0pt, text=lbl, font=\f] at (axis cs:188.0,2702.8) {2703.51};
\end{axis}

% ---------------- volume panel ----------------
\begin{axis}[panel=-265pt, height=73.85pt, ymin=0, ymax=69.4, ytick={19.9,39.5,59.4}]
\addplot[ybar, bar width=1.85pt, bar shift=0pt, draw=upred, line width=0.5pt, fill=black] table[x=k, y=v] {\volup};
\addplot[ybar, bar width=2.35pt, bar shift=0pt, draw=none, fill=dncyan] table[x=k, y=v] {\voldn};
\addplot[maten, line width=0.55pt] table[x=k, y=v] {\mav};
\addplot[white, line width=0.5pt] coordinates {(0,0) (0,60.8)};
\end{axis}

% ---------------- MACD panel ----------------
\begin{axis}[panel=-339pt, height=99.5pt, ymin=-25.5, ymax=50.6, ytick={42.3,25.5,8.5,-8.7}]
\addplot[ybar, bar width=0.5pt, bar shift=0pt, draw=none, fill=upred] table[x=k, y=h] {\hup};
\addplot[ybar, bar width=0.5pt, bar shift=0pt, draw=none, fill=mgreen] table[x=k, y=h] {\hdn};
\addplot[maten, line width=0.55pt] table[x=k, y=v] {\dea};
\addplot[white, line width=0.55pt] table[x=k, y=v] {\diff};
\addplot[white, line width=0.5pt] coordinates {(0,-25.5) (0,43.5)};
\end{axis}

% ---------------- frames ----------------
\draw[framered, line width=0.6pt] (0,-265pt) -- (888pt,-265pt);
\draw[framered, line width=0.6pt] (0,-339pt) -- (888pt,-339pt);
\draw[framered, line width=0.6pt] (886.65pt,0) -- (886.65pt,-438.5pt);
\fill[tab] (886.7pt,-79.6pt) rectangle (888pt,-88.4pt);

% ---------------- header texts ----------------
\node[anchor=base west, inner sep=0pt, text=white, font=\cjk\f] at (2.5pt,-7.7pt) {上证指数};
\node[anchor=base west, inner sep=0pt, font=\f] at (29.2pt,-7.7pt) {\textcolor{white}{MA5: 2549.94}\textcolor{dncyan}{↓}};
\node[anchor=base west, inner sep=0pt, font=\f] at (71.3pt,-7.7pt) {\textcolor{maten}{MA10: 2552.48}\textcolor{dncyan}{↓}};
\node[anchor=base west, inner sep=0pt, font=\f] at (116.7pt,-7.7pt) {\textcolor{mathree}{MA34: 2575.93}\textcolor{dncyan}{↓}};
\node[anchor=base west, inner sep=0pt, font=\f] at (162.5pt,-7.7pt) {\textcolor{matwo}{MA250: 2705.38}\textcolor{dncyan}{↓}};

\draw[framered, line width=0.6pt] (815.85pt,0) -- (815.85pt,-10pt) -- (887pt,-10pt);
\foreach \xx in {836.35,852.15,861.65,877.5}{\draw[framered, line width=0.6pt] (\xx pt,0) -- (\xx pt,-10pt);}
\node[text=btn, font=\cjk\f, inner sep=0pt] at (826.1pt,-5pt) {加自选};
\node[text=btn, font=\cjk\f, inner sep=0pt] at (844.25pt,-5pt) {均线};
\node[text=btn, font=\cjk\f, inner sep=0pt] at (856.9pt,-5pt) {窗};
\node[text=btn, font=\cjk\f, inner sep=0pt] at (869.5pt,-5pt) {预测};
\fill[btn] (880.2pt,-3.2pt) rectangle (881.1pt,-7.8pt);
\fill[btn] (881.4pt,-5.5pt) -- (884.6pt,-3.2pt) -- (884.6pt,-7.8pt) -- cycle;
\fill[btn] (884.6pt,-5.0pt) rectangle (885.6pt,-6.0pt);
\foreach \i in {0,...,8}{
  \fill[dia] ({848.35pt+\i*3.54pt},-11.0pt) -- ++(1.65pt,-1.5pt) -- ++(-1.65pt,-1.5pt) -- ++(-1.65pt,1.5pt) -- cycle;}

\node[anchor=base west, inner sep=0pt, font=\f] at (0pt,-272.6pt) {\textcolor{upred}{88↑}};
\node[anchor=base west, inner sep=0pt, font=\f] at (12pt,-272.6pt) {\textcolor{upred}{{\cjk 总量}: 14327017}\textcolor{dncyan}{↓}};
\node[anchor=base west, inner sep=0pt, font=\f] at (60.3pt,-272.6pt) {\textcolor{maten}{MAVOL5: 15724162}\textcolor{upred}{↑}};
\draw[framered, line width=0.6pt] (840.85pt,-265pt) -- (840.85pt,-274.5pt) -- (886.65pt,-274.5pt);
\node[text=btn, font=\cjk\f, inner sep=0pt] at (863.3pt,-269.8pt) {成交量};
\fill[btn] (881.3pt,-269.2pt) -- (883.7pt,-269.2pt) -- (882.5pt,-270.6pt) -- cycle;

\node[anchor=base west, inner sep=0pt, font=\f] at (0pt,-346.6pt) {\textcolor{lbl}{9)}};
\node[anchor=base west, inner sep=0pt, font=\f] at (7.85pt,-346.6pt) {\textcolor{upred}{MACD: +1.94↑}};
\node[anchor=base west, inner sep=0pt, font=\f] at (48.35pt,-346.6pt) {\textcolor{white}{DIFF: -19.51}\textcolor{upred}{↑}};
\node[anchor=base west, inner sep=0pt, font=\f] at (87pt,-346.6pt) {\textcolor{maten}{DEA: -20.48}\textcolor{upred}{↑}};
\draw[framered, line width=0.6pt] (853.65pt,-339.15pt) rectangle (886.65pt,-348.65pt);
\node[text=btn, font=\cjk\f, inner sep=0pt] at (870pt,-344pt) {指标说明};

\pgfresetboundingbox
\path (0,0) rectangle (888pt,-438.5pt);
\end{tikzpicture}
\end{document}
